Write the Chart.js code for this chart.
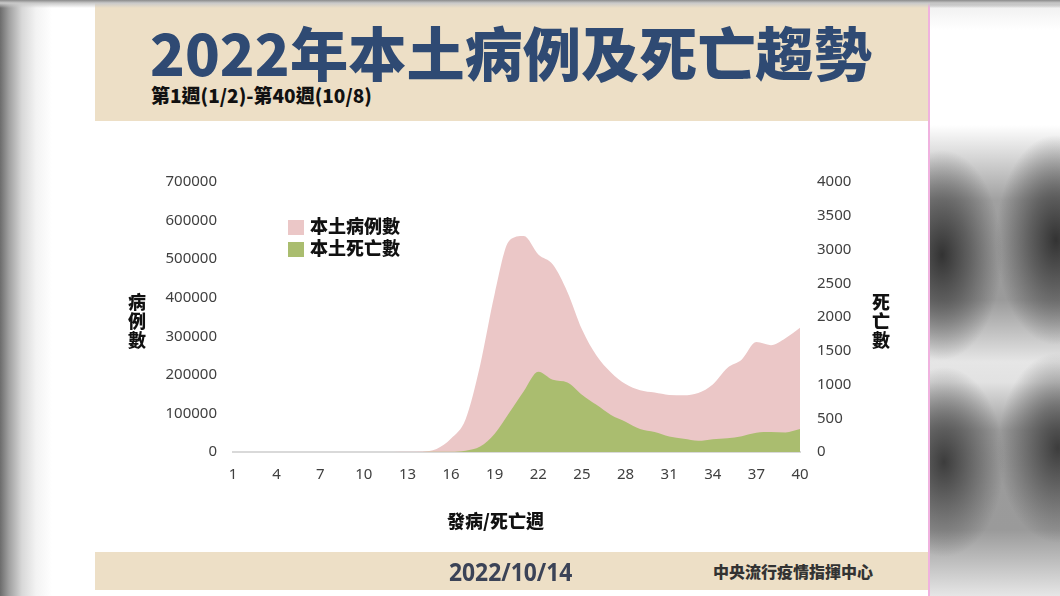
<!DOCTYPE html>
<html>
<head>
<meta charset="utf-8">
<script src="https://cdn.jsdelivr.net/npm/chart.js@4"></script>
<style>
  body { margin: 0; width: 1060px; height: 596px; position: relative; overflow: hidden; background: #fff; font-family: "Noto Sans CJK TC", "Noto Sans", sans-serif; }
  .bg-left { position: absolute; left: 0; top: 0; width: 95px; height: 596px;
    background: linear-gradient(to right, #6c6c6c 0, #a0a0a0 9px, #d8d8d8 22px, #f3f3f3 36px, #fff 52px); }
  .bg-top { position: absolute; left: 0; top: 0; width: 1060px; height: 8px;
    background: linear-gradient(to bottom, #8a8a8a 0, #c9c9c9 3px, rgba(255,255,255,0) 8px); }
  .bg-right { position: absolute; left: 928px; top: 0; width: 132px; height: 596px; background:
    radial-gradient(ellipse 60px 105px at 14px 255px, rgba(45,45,45,0.95) 0, rgba(70,70,70,0.7) 45%, rgba(120,120,120,0) 100%),
    radial-gradient(ellipse 60px 105px at 128px 240px, rgba(45,45,45,0.95) 0, rgba(70,70,70,0.7) 45%, rgba(120,120,120,0) 100%),
    radial-gradient(ellipse 60px 95px at 16px 462px, rgba(50,50,50,0.9) 0, rgba(75,75,75,0.65) 45%, rgba(120,120,120,0) 100%),
    radial-gradient(ellipse 60px 95px at 130px 448px, rgba(50,50,50,0.9) 0, rgba(75,75,75,0.65) 45%, rgba(120,120,120,0) 100%),
    linear-gradient(to bottom, #8a8a8a 0, #f2f2f2 8px, #fff 30px, #fff 125px, #a0a0a0 200px, #9a9a9a 300px, #e6e6e6 362px, #e2e2e2 382px, #9c9c9c 430px, #9a9a9a 530px, #e6e6e6 596px); }
  .card { position: absolute; left: 95px; top: 3px; width: 833px; height: 593px; background: #fff; border-right: 2px solid #f0b2df; }
  .header { position: absolute; left: 0; top: 0; width: 833px; height: 118px; background: #eddfc6; }
  .footer { position: absolute; left: 0; top: 549px; width: 833px; height: 38px; background: #eddfc6; }
  .fit { position: absolute; white-space: nowrap; line-height: 1; transform-origin: top left; }
  .title { top: 20px; font-size: 70px; font-weight: 900; color: #2f4a73; }
  .subtitle { position: absolute; left: 56px; top: 82px; font-size: 19px; font-weight: 900; color: #111; line-height: 1; white-space: nowrap; }
  .date { top: 7px; font-family: "Open Sans", "Noto Sans", sans-serif; font-size: 26px; font-weight: 700; color: #3b4357; }
  .agency { position: absolute; left: 618px; top: 8px; font-size: 16px; font-weight: 900; color: #333; line-height: 22px; }
  .chart-box { position: absolute; left: 0; top: 119px; width: 833px; height: 428px; }
  .ytitle { position: absolute; width: 22px; font-size: 18px; font-weight: 900; color: #111; line-height: 19px; text-align: center; }
  .xtitle { position: absolute; left: 352px; top: 504px; font-size: 18px; font-weight: 900; color: #111; }
  .legend { position: absolute; left: 193px; top: 211px; font-size: 18px; font-weight: 900; color: #111; }
  .legend div { height: 22px; line-height: 22px; white-space: nowrap; }
  .legend span.sw { display: inline-block; width: 16px; height: 15px; margin-right: 6px; vertical-align: -2px; }
</style>
</head>
<body>
<div class="bg-left"></div>
<div class="bg-right"></div>
<div class="card">
  <div class="header">
    <div class="fit title" id="titleYear">2022</div>
    <div class="fit title" id="titleText">年本土病例及死亡趨勢</div>
    <div class="subtitle">第1週(1/2)-第40週(10/8)</div>
  </div>
  <div class="chart-box"><canvas id="trendChart"></canvas></div>
  <div class="ytitle" style="left:31px;top:289px;">病<br>例<br>數</div>
  <div class="ytitle" style="left:775px;top:289px;">死<br>亡<br>數</div>
  <div class="xtitle">發病/死亡週</div>
  <div class="legend" id="legend"></div>
  <div class="footer">
    <div class="fit date" id="dateText">2022/10/14</div>
    <div class="agency">中央流行疫情指揮中心</div>
  </div>
</div>
<div class="bg-top"></div>
<script>
const weekLabels = ['1', '2', '3', '4', '5', '6', '7', '8', '9', '10',
  '11', '12', '13', '14', '15', '16', '17', '18', '19', '20',
  '21', '22', '23', '24', '25', '26', '27', '28', '29', '30',
  '31', '32', '33', '34', '35', '36', '37', '38', '39', '40'];
const shownWeeks = ['1', '4', '7', '10', '13', '16', '19', '22', '25', '28', '31', '34', '37', '40'];

// 本土病例數 (left axis)
const caseCounts = [50, 80, 150, 120, 60, 40, 50, 60, 30, 40,
  80, 150, 400, 1500, 8000, 35000, 85000, 225000, 410000, 548000,
  560000, 512000, 486000, 415000, 318000, 250000, 206000, 176000, 160000, 154000,
  148000, 147000, 153000, 175000, 218000, 240000, 285000, 277000, 295000, 322000];

// 本土死亡數 (right axis)
const deathCounts = [0, 0, 0, 0, 0, 0, 0, 0, 0, 0,
  0, 0, 0, 0, 2, 5, 20, 80, 270, 580,
  900, 1190, 1070, 1030, 850, 700, 550, 450, 340, 295,
  230, 195, 165, 190, 205, 235, 285, 295, 290, 340];

const caseLabel = '本土病例數';
const deathLabel = '本土死亡數';
const caseColor = '#ebc7c7';
const deathColor = '#aabd6f';

const tickFont = { family: '"Noto Sans", sans-serif', size: 15 };
const tickColor = '#404040';

// squeeze the condensed header text into its box
function fitText(id, left, width, scaleY) {
  const el = document.getElementById(id);
  el.style.left = left + 'px';
  el.style.transform = 'scale(' + (width / el.offsetWidth) + ',' + scaleY + ')';
}
fitText('titleYear', 55, 140, 0.82);
fitText('titleText', 195, 582, 0.82);
fitText('dateText', 354, 123, 0.95);

const chart = new Chart(document.getElementById('trendChart'), {
  type: 'line',
  data: {
    labels: weekLabels,
    datasets: [{
      label: caseLabel,
      data: caseCounts,
      yAxisID: 'yCases',
      backgroundColor: caseColor,
      borderWidth: 0,
      fill: 'origin',
      pointRadius: 0,
      cubicInterpolationMode: 'monotone',
      order: 2
    }, {
      label: deathLabel,
      data: deathCounts,
      yAxisID: 'yDeaths',
      backgroundColor: deathColor,
      borderWidth: 0,
      fill: 'origin',
      pointRadius: 0,
      cubicInterpolationMode: 'monotone',
      order: 1
    }]
  },
  options: {
    responsive: true,
    maintainAspectRatio: false,
    animation: false,
    layout: { padding: { top: 60, left: 0, right: 0, bottom: 0 } },
    plugins: {
      legend: { display: false },
      tooltip: { enabled: false }
    },
    scales: {
      x: {
        offset: false,
        grid: { display: false, drawTicks: false },
        border: { display: true, color: '#d9d9d9', width: 2 },
        ticks: {
          autoSkip: false,
          maxRotation: 0,
          padding: 14,
          color: tickColor,
          font: tickFont,
          callback: function(value) {
            const label = this.getLabelForValue(value);
            return shownWeeks.includes(label) ? label : '';
          }
        },
        afterFit: function(scale) { scale.height = 98; }
      },
      yCases: {
        position: 'left',
        min: 0,
        max: 700000,
        grid: { display: false, drawTicks: false },
        border: { display: false },
        ticks: {
          stepSize: 100000,
          padding: 16,
          color: tickColor,
          font: tickFont,
          callback: v => String(v)
        },
        afterFit: function(scale) { scale.width = 138; }
      },
      yDeaths: {
        position: 'right',
        min: 0,
        max: 4000,
        grid: { display: false, drawTicks: false },
        border: { display: false },
        ticks: {
          stepSize: 500,
          padding: 17,
          color: tickColor,
          font: tickFont,
          callback: v => String(v)
        },
        afterFit: function(scale) { scale.width = 128; }
      }
    }
  }
});

// html legend from the datasets
const legendEl = document.getElementById('legend');
chart.data.datasets.forEach(ds => {
  const row = document.createElement('div');
  const sw = document.createElement('span');
  sw.className = 'sw';
  sw.style.background = ds.backgroundColor;
  row.appendChild(sw);
  row.appendChild(document.createTextNode(ds.label));
  legendEl.appendChild(row);
});
</script>
</body>
</html>
